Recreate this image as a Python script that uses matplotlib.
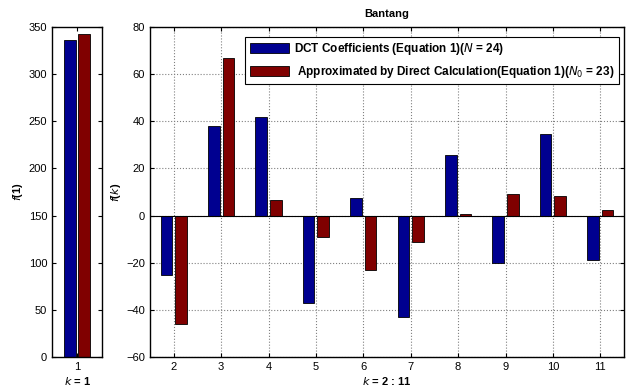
import matplotlib
matplotlib.use("Agg")
import matplotlib.pyplot as plt
import numpy as np

plt.rcParams['font.family'] = ['Liberation Sans', 'DejaVu Sans']

k_first = [1]
dct_first = [336]
approx_first = [343]

k_rest = [2, 3, 4, 5, 6, 7, 8, 9, 10, 11]
dct_rest = [-25, 38, 42, -37, 7.5, -43, 25.5, -20, 34.5, -19]
approx_rest = [-46, 67, 6.5, -9, -23, -11, 0.5, 9, 8.5, 2.5]

title = "Bantang"
legend_labels = [r"DCT Coefficients (Equation 1)($\bf\it{N}$ = 24)",
                 r" Approximated by Direct Calculation(Equation 1)($\bf\it{N}_0$ = 23)"]

blue = "#000090"
red = "#800000"

fig = plt.figure(figsize=(6.29, 3.91), dpi=100)
W, H = 629, 391

def ax_rect(x0, y0, x1, y1):
    return [x0 / W, 1 - y1 / H, (x1 - x0) / W, (y1 - y0) / H]

ax1 = fig.add_axes(ax_rect(52, 27, 102, 357))
ax2 = fig.add_axes(ax_rect(150, 27, 624, 357))

fs = 8
off = 0.145
bw = 0.245

for ax in (ax1, ax2):
    ax.tick_params(direction='in', top=True, right=True, labelsize=fs, length=3, width=0.8)
    for s in ax.spines.values():
        s.set_linewidth(1.0)

ax1.bar(np.array(k_first) - off, dct_first, width=bw, color=blue, edgecolor='black', linewidth=0.6)
ax1.bar(np.array(k_first) + off, approx_first, width=bw, color=red, edgecolor='black', linewidth=0.6)
ax1.set_xlim(0.5, 1.5)
ax1.set_ylim(0, 350)
ax1.set_xticks([1])
ax1.set_yticks(np.arange(0, 351, 50))
ax1.set_ylabel(r"$\bf\it{f}$(1)", fontsize=fs, fontweight='bold')
ax1.yaxis.set_label_coords(-0.54, 0.5)
ax1.set_xlabel(r"$\bf\it{k}$ = 1", fontsize=fs, fontweight='bold', labelpad=2)

kr = np.array(k_rest)
ax2.grid(True, linestyle=':', color='#808080', linewidth=0.8)
ax2.set_axisbelow(True)
ax2.bar(kr - off * 1.07, dct_rest, width=bw, color=blue, edgecolor='black', linewidth=0.6, label=legend_labels[0])
ax2.bar(kr + off * 1.07, approx_rest, width=bw, color=red, edgecolor='black', linewidth=0.6, label=legend_labels[1])
ax2.axhline(0, color='black', linewidth=0.8)
ax2.set_xlim(1.5, 11.5)
ax2.set_ylim(-60, 80)
ax2.set_xticks(k_rest)
ax2.set_yticks(np.arange(-60, 81, 20))
ax2.set_ylabel(r"$\bf\it{f}$($\bf\it{k}$)", fontsize=fs, fontweight='bold', labelpad=2)
ax2.set_xlabel(r"$\bf\it{k}$ = 2 : 11", fontsize=fs, fontweight='bold', labelpad=2)
ax2.set_title(title, fontsize=fs, fontweight='bold', pad=7)

leg = ax2.legend(loc='upper right', prop={'weight': 'bold', 'size': 8.5},
                 frameon=True, fancybox=False, edgecolor='black', framealpha=1,
                 handlelength=3.3, handleheight=1.0, handletextpad=0.5,
                 borderpad=0.35, labelspacing=0.6, borderaxespad=0,
                 bbox_to_anchor=((619 - 150) / 474, 1 - (37 - 27) / 330))
leg.get_frame().set_linewidth(0.8)

fig.savefig("out.png", dpi=100)
